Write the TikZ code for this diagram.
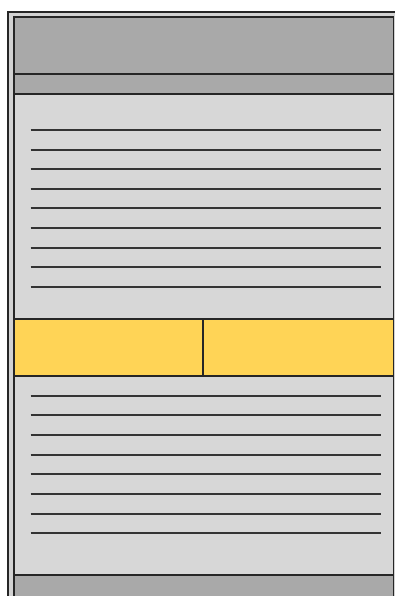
\documentclass[tikz,border=0pt]{standalone}
\begin{document}
\begin{tikzpicture}[x=1pt,y=-1pt,
  frame/.style={draw=black!85,line width=1.8pt},
  rule/.style={draw=black!80,line width=2pt},
  band/.style={frame,fill=hdr}]
\definecolor{hdr}{HTML}{A9A9A9}
\definecolor{bodyc}{HTML}{D7D7D7}
\definecolor{outerc}{HTML}{D2D2D2}
\definecolor{yel}{HTML}{FFD456}
\useasboundingbox (0,0) rectangle (395,596);
\clip (0,0) rectangle (395,596);
\fill[white] (0,0) rectangle (395,596);
\draw[frame,fill=outerc,line width=1.4pt] (8,12) rectangle (402,610);
\draw[frame,fill=bodyc] (14,17) rectangle (393.5,610);
\draw[band] (14,17) rectangle (393.5,74);
\draw[band] (14,74) rectangle (393.5,94);
\foreach \y in {130,150,169,189,208,228,248,267,287}
  \draw[rule] (30.5,\y) -- (380.5,\y);
\draw[frame,fill=yel] (14,319) rectangle (393.5,376);
\draw[frame] (203,319) -- (203,376);
\foreach \y in {396,415,435,455,474,494,514,533}
  \draw[rule] (30.5,\y) -- (380.5,\y);
\draw[band] (14,575) rectangle (393.5,610);
\end{tikzpicture}
\end{document}
